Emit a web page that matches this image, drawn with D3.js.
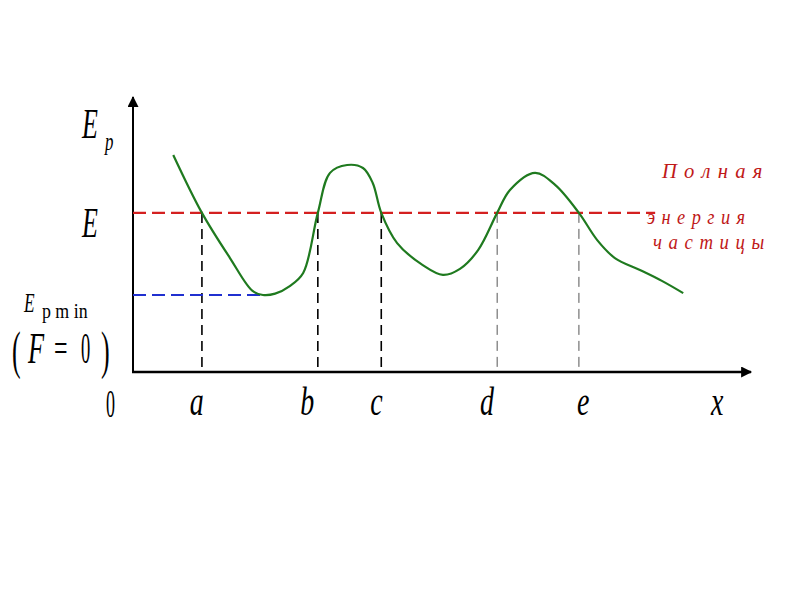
<!DOCTYPE html>
<html><head><meta charset="utf-8">
<script src="https://cdn.jsdelivr.net/npm/d3@7"></script>
<style>body{margin:0;background:#fff}svg{display:block}
text{font-family:"Times New Roman","Liberation Serif","DejaVu Serif",serif}</style>
</head><body>
<svg id="c" width="800" height="600"></svg>
<script>
// Data
const curveX = [6.6, 11.3, 15.9, 19.6, 21.3, 23.3, 25.7, 27.9, 30.3, 32.3, 35.1, 37.7, 39.3, 40.7, 43.3, 47.5, 50.8, 53.6, 56.6, 59.7, 61.8, 65.9, 69.2, 73.1, 76.1, 79.0, 83.1, 86.7, 90.2];
const curveY = [79.8, 58.5, 41.9, 29.8, 28.3, 28.8, 31.6, 36.4, 58.5, 73.2, 76.1, 75.0, 69.5, 58.5, 47.4, 39.3, 35.7, 37.9, 44.9, 58.5, 66.9, 73.2, 68.8, 58.5, 48.5, 41.9, 37.5, 33.5, 29.0];
const pointLabels = ["a", "b", "c", "d", "e"];
const pointX = [11.3, 30.3, 40.7, 59.7, 73.1];
const pointLabelX = [9.3, 27.4, 38.9, 56.9, 72.8];
const energyE = 58.5;
const energyMin = 28.3;
const redLineEnd = 85.6;
const blueLineEnd = 22.5;
const totalEnergyLines = ["П о л н а я", "э н е р г и я", "ч а с т и ц ы"];

const svg = d3.select("#c");
const x = d3.scaleLinear().domain([0, 100]).range([133, 743]);
const y = d3.scaleLinear().domain([0, 100]).range([372, 100]);

// arrow marker
const defs = svg.append("defs");
defs.append("marker").attr("id","arr").attr("viewBox","0 0 10 10").attr("refX",9).attr("refY",5)
  .attr("orient","auto-start-reverse")
  .attr("markerUnits","userSpaceOnUse").attr("markerWidth",13).attr("markerHeight",11)
  .append("path").attr("d","M0,0 L10,5 L0,10 Z").attr("fill","#000");

// axes
svg.append("line").attr("x1",x(0)).attr("y1",y(0)).attr("x2",x(0)).attr("y2",97)
  .attr("stroke","#000").attr("stroke-width",2).attr("marker-end","url(#arr)");
svg.append("line").attr("x1",x(0)-1).attr("y1",y(0)).attr("x2",751).attr("y2",y(0))
  .attr("stroke","#000").attr("stroke-width",2.5).attr("marker-end","url(#arr)");

// vertical dashed lines
svg.selectAll(".vd").data(pointX).join("line")
  .attr("x1",d=>x(d)).attr("x2",d=>x(d)).attr("y1",y(energyE)).attr("y2",y(0)-2)
  .attr("stroke",(d,i)=> i>=3 ? "#555" : "#000")
  .attr("stroke-width",(d,i)=> i>=3 ? 1 : 1.6)
  .attr("stroke-dasharray","10,6");

// red and blue dashed
svg.append("line").attr("x1",x(0)).attr("x2",x(redLineEnd)).attr("y1",y(energyE)).attr("y2",y(energyE))
  .attr("stroke","#d42020").attr("stroke-width",2.2).attr("stroke-dasharray","13,6");
svg.append("line").attr("x1",x(0)).attr("x2",x(blueLineEnd)).attr("y1",y(energyMin)).attr("y2",y(energyMin))
  .attr("stroke","#2030d0").attr("stroke-width",2.2).attr("stroke-dasharray","13,6");

// curve
const pts = curveX.map((v,i)=>[v, curveY[i]]);
svg.append("path").datum(pts)
  .attr("d", d3.line().x(d=>x(d[0])).y(d=>y(d[1])).curve(d3.curveCatmullRom.alpha(0.5)))
  .attr("fill","none").attr("stroke","#1f7a1f").attr("stroke-width",2.2);

// text helper
function txt(s, tx, ty, size, sx, opts={}) {
  return svg.append("text").text(s)
    .attr("transform", `translate(${tx},${ty}) scale(${sx},1)`)
    .style("font-style", opts.italic===false ? "normal" : "italic")
    .style("font-size", size + "px")
    .attr("fill", opts.fill || "#000")
    .attr("letter-spacing", opts.ls || 0)
    .attr("text-anchor", opts.anchor || "start");
}

// x labels
pointLabels.forEach((l,i)=> txt(l, x(pointLabelX[i]), 415, 40, 0.7));
txt("0", 106, 417, 40, 0.45, {italic:false});
txt("x", 711, 415, 40, 0.7);

// y labels
txt("E", 82, 138, 42, 0.62);
txt("p", 105, 150, 26, 0.65);
txt("E", 82, 237, 42, 0.62);
txt("E", 24, 312, 28, 0.62);
txt("p m in", 42, 318, 21, 0.85, {italic:false});
txt("(", 12, 368, 52, 0.5, {italic:false});
txt("F", 28, 363, 44, 0.6);
txt("=", 54, 362, 40, 0.6, {italic:false});
txt("0", 81, 363, 44, 0.42, {italic:false});
txt(")", 101, 368, 52, 0.5, {italic:false});

// total energy text
const tx = [662, 647, 653];
const ty = [178, 224, 249];
const sxs = [1.03, 0.92, 0.94];
totalEnergyLines.forEach((s,i)=> txt(s, tx[i], ty[i], 20, sxs[i], {fill:"#c01818", ls:1}));
</script>
</body></html>
